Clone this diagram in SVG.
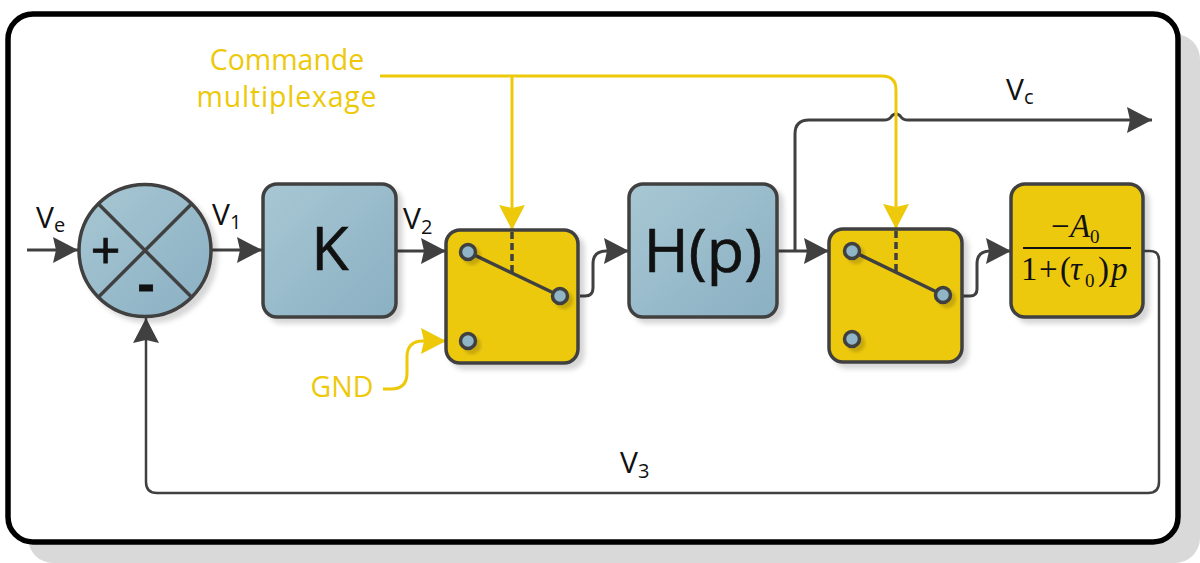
<svg xmlns="http://www.w3.org/2000/svg" width="1200" height="563" viewBox="0 0 1200 563">
<style>
.lbl{font-family:"Open Sans","DejaVu Sans",sans-serif;fill:#111}
.sub{font-size:20px}
.v{font-size:30px}
.cmd{font-family:"Open Sans","DejaVu Sans",sans-serif;fill:#EDC90A;font-size:28.500px;text-anchor:middle}
.big{font-family:"Open Sans","DejaVu Sans",sans-serif;fill:#111;stroke:#111;stroke-width:.7;font-size:61px;text-anchor:middle}
.box{stroke:#404040;stroke-width:3.5;filter:url(#sh)}
.blue{fill:url(#bg)}
.yel{fill:#EDC90A}
.con{fill:none;stroke:#404040;stroke-width:3;marker-end:url(#ah)}
.ycon{fill:none;stroke:#EDC90A;stroke-width:3;marker-end:url(#ay)}
.pin{fill:#8FB5C6;stroke:#404040;stroke-width:3.5;filter:url(#sh2)}
.arm{stroke:#404040;stroke-width:3.5;fill:none}
.mark{font-family:"Open Sans","DejaVu Sans",sans-serif;fill:#111;stroke:#111;stroke-width:.9;text-anchor:middle}
.fr{font-family:"Liberation Serif",serif;fill:#111;font-size:33px}
.fi{font-style:italic}
.fs{font-size:19px}
</style>
<defs>
<linearGradient id="bg" x1="0" y1="0" x2="1" y2="1"><stop offset="0" stop-color="#A8C7D3"/><stop offset="1" stop-color="#8AB0C3"/></linearGradient>
<filter id="sh" x="-10%" y="-10%" width="125%" height="125%"><feDropShadow dx="5" dy="5" stdDeviation="2.500" flood-color="#000" flood-opacity="0.16"/></filter>
<filter id="sh2" x="-30%" y="-30%" width="180%" height="180%"><feDropShadow dx="4" dy="4" stdDeviation="1.500" flood-color="#000" flood-opacity="0.16"/></filter>
<marker id="ah" markerUnits="userSpaceOnUse" markerWidth="28" markerHeight="28" refX="25" refY="13" orient="auto"><path d="M0,0 L25,13 L0,26 L3,13Z" fill="#404040"/></marker>
<marker id="ay" markerUnits="userSpaceOnUse" markerWidth="28" markerHeight="28" refX="25" refY="13" orient="auto"><path d="M0,0 L25,13 L0,26 L3,13Z" fill="#EDC90A"/></marker>
</defs>
<rect width="1200" height="563" fill="#fff"/>
<g id="frame">
<rect x="28" y="34" width="1172" height="529" rx="25" fill="#D9D9D9"/>
<rect x="8" y="14" width="1170" height="528" rx="25" fill="#fff" stroke="#000" stroke-width="5.500"/>
</g>
<g id="connectors">
<path class="con" d="M27,250H78"/>
<path class="con" d="M212,250H262"/>
<path class="con" d="M396,251H446"/>
<path class="con" d="M580,296H585Q593,296 593,288V264Q593,251 606,251H629"/>
<path class="con" d="M777,251H829"/>
<path class="con" d="M795,251V134Q795,120 809,120H884Q889,120 891,117Q893,114 896,114Q899,114 901,117Q903,120 908,120H1152"/>
<path class="con" d="M963,296H970Q977,296 977,289V264Q977,251 990,251H1011"/>
<path class="con" style="stroke-width:2.500" d="M1143,251H1150Q1159,251 1159,260V482Q1159,493 1148,493H157Q146,493 146,482V318"/>
<path class="ycon" d="M380,76H882Q896,76 896,90V229"/>
<path class="ycon" d="M512,76V230"/>
<path class="ycon" d="M383,389H391Q407,389 407,373V357Q407,341 423,341H446"/>
</g>
<g id="sum">
<circle cx="145" cy="250.500" r="66" class="box blue"/>
<path d="M98.500,204L191.500,297M191.500,204L98.500,297" stroke="#404040" stroke-width="3.500" fill="none"/>
<text class="mark" x="105.500" y="268.500" font-size="52">+</text>
<text class="mark" x="146" y="300.500" font-size="50" font-weight="bold">-</text>
</g>
<g id="k"><rect class="box blue" x="263" y="184" width="133" height="133" rx="14"/><text class="big" x="330" y="270">K</text></g>
<g id="hp"><rect class="box blue" x="629" y="184" width="148" height="133" rx="14"/><text class="big" x="703" y="272">H(p)</text></g>
<g id="switch1">
<rect class="box yel" x="446" y="230" width="132" height="133" rx="14"/>
<path class="arm" d="M468,252L560,296"/>
<path class="arm" d="M512,232V273" stroke-dasharray="7,4"/>
<circle class="pin" cx="468" cy="252" r="7.500"/><circle class="pin" cx="560" cy="296" r="7.500"/><circle class="pin" cx="468" cy="341" r="7.500"/>
</g>
<g id="switch2">
<rect class="box yel" x="829" y="229" width="133" height="133" rx="14"/>
<path class="arm" d="M852,251L943,295"/>
<path class="arm" d="M896,231V271" stroke-dasharray="7,4"/>
<circle class="pin" cx="852" cy="251" r="7.500"/><circle class="pin" cx="943" cy="295" r="7.500"/><circle class="pin" cx="852" cy="339" r="7.500"/>
</g>
<g id="transfer">
<rect class="box yel" x="1011" y="184" width="132" height="133" rx="14"/>
<path d="M1023,248H1131" stroke="#111" stroke-width="2"/>
<text class="fr"><tspan x="1051" y="237">−</tspan><tspan class="fi" x="1070" y="237">A</tspan><tspan class="fs" x="1090" y="243">0</tspan></text>
<text class="fr"><tspan x="1021" y="280">1</tspan><tspan x="1039" y="280">+</tspan><tspan x="1060" y="280">(</tspan><tspan class="fi" x="1070" y="280">τ</tspan><tspan class="fs" x="1085" y="287">0</tspan><tspan x="1098" y="280">)</tspan><tspan class="fi" x="1111" y="280">p</tspan></text>
</g>
<g id="labels">
<text class="lbl v" x="36" y="228">V<tspan class="sub" dy="4">e</tspan></text>
<text class="lbl v" x="212" y="225">V<tspan class="sub" dy="4">1</tspan></text>
<text class="lbl v" x="403" y="229">V<tspan class="sub" dy="5">2</tspan></text>
<text class="lbl v" x="1006" y="100">V<tspan class="sub" dy="4">c</tspan></text>
<text class="lbl v" x="620" y="473">V<tspan class="sub" dy="5">3</tspan></text>
<text class="cmd" x="287" y="70">Commande</text>
<text class="cmd" x="287" y="107" letter-spacing=".8">multiplexage</text>
<text class="cmd" x="342" y="397">GND</text>
</g>
</svg>
